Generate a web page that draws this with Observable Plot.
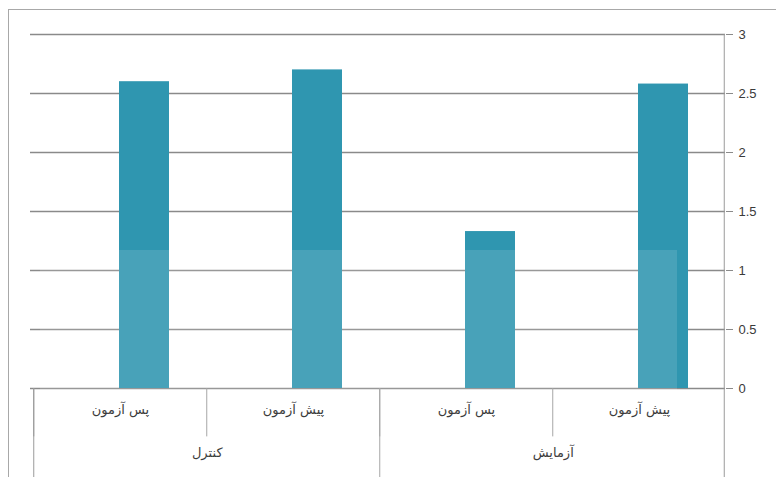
<!DOCTYPE html>
<html>
<head>
<meta charset="utf-8">
<script src="https://cdn.jsdelivr.net/npm/d3@7"></script>
<script src="https://cdn.jsdelivr.net/npm/@observablehq/plot@0.6"></script>
<style>
  html, body { margin: 0; padding: 0; background: #fff; }
  #wrap { position: relative; width: 776px; height: 477px; overflow: hidden; }
  #frame { position: absolute; left: 8px; top: 9px; width: 800px; height: 500px;
           border-top: 1px solid #a8a8a8; border-left: 1px solid #a8a8a8; pointer-events: none; }
  #veil { position: absolute; left: 40px; top: 250px; width: 637px; height: 227px;
          background: rgba(255,255,255,0.12); pointer-events: none; }
</style>
</head>
<body>
<div id="wrap"><div id="chart"></div><div id="veil"></div><div id="frame"></div></div>
<script>
// Data
const groups = ["کنترل", "کنترل", "آزمایش", "آزمایش"];
const tests = ["پس آزمون", "پیش آزمون", "پس آزمون", "پیش آزمون"];
const values = [2.6, 2.7, 1.33, 2.58];
const yTicks = [0, 0.5, 1, 1.5, 2, 2.5, 3];
const groupNames = ["کنترل", "آزمایش"];

const keys = tests.map((t, i) => i + "|" + t);
const data = keys.map((k, i) => ({key: k, test: tests[i], group: groups[i], value: values[i]}));
const groupData = groupNames.map(g => ({group: g, key: keys[groups.indexOf(g)]}));
const lastKey = [keys[keys.length - 1]];

// Layout constants
const X0 = 33, X1 = 727;
const STEP = (X1 - X0) / keys.length;
const PI = 0.71;
const persian = "DejaVu Sans, sans-serif";

const plot = Plot.plot({
  width: 776,
  height: 477,
  marginTop: 34,
  marginBottom: 89,
  marginLeft: 30,
  marginRight: 51,
  style: {background: "transparent", fontFamily: "Liberation Sans, Arial, sans-serif"},
  x: {domain: keys, range: [X0, X1], paddingInner: PI, paddingOuter: PI / 2, axis: null},
  y: {domain: [0, 3], axis: null},
  marks: [
    Plot.ruleY(yTicks, {stroke: "#8a8a8a", strokeWidth: 1.6}),
    Plot.axisY({anchor: "right", ticks: yTicks, tickSize: 7, tickPadding: 6, fontSize: 13,
                color: "#3a3a3a", stroke: "#8a8a8a", label: null, tickFormat: d => String(d)}),
    Plot.barY(data, {x: "key", y: "value", fill: "#2f96b0", dx: 24}),
    // table dividers (row 1)
    Plot.ruleX(data, {x: "key", y1: 0, y2: -0.41, dx: -STEP / 2, stroke: "#9a9a9a"}),
    // group dividers (full height of table)
    Plot.ruleX(groupData, {x: "key", y1: 0, y2: -0.76, dx: -STEP / 2, stroke: "#9a9a9a"}),
    // right edge: value axis line continuing into the table
    Plot.ruleX(lastKey, {x: d => d, y1: 3, y2: -0.76, dx: STEP / 2 - 2, stroke: "#9a9a9a"}),
    // labels
    Plot.text(data, {x: "key", text: "test", frameAnchor: "bottom", dy: 25, fontSize: 13,
                     fontFamily: persian, fill: "#222"}),
    Plot.text(groupData, {x: "key", text: "group", frameAnchor: "bottom", dy: 68, dx: STEP / 2, fontSize: 13,
                     fontFamily: persian, fill: "#222"})
  ]
});
document.getElementById("chart").appendChild(plot);
</script>
</body>
</html>
